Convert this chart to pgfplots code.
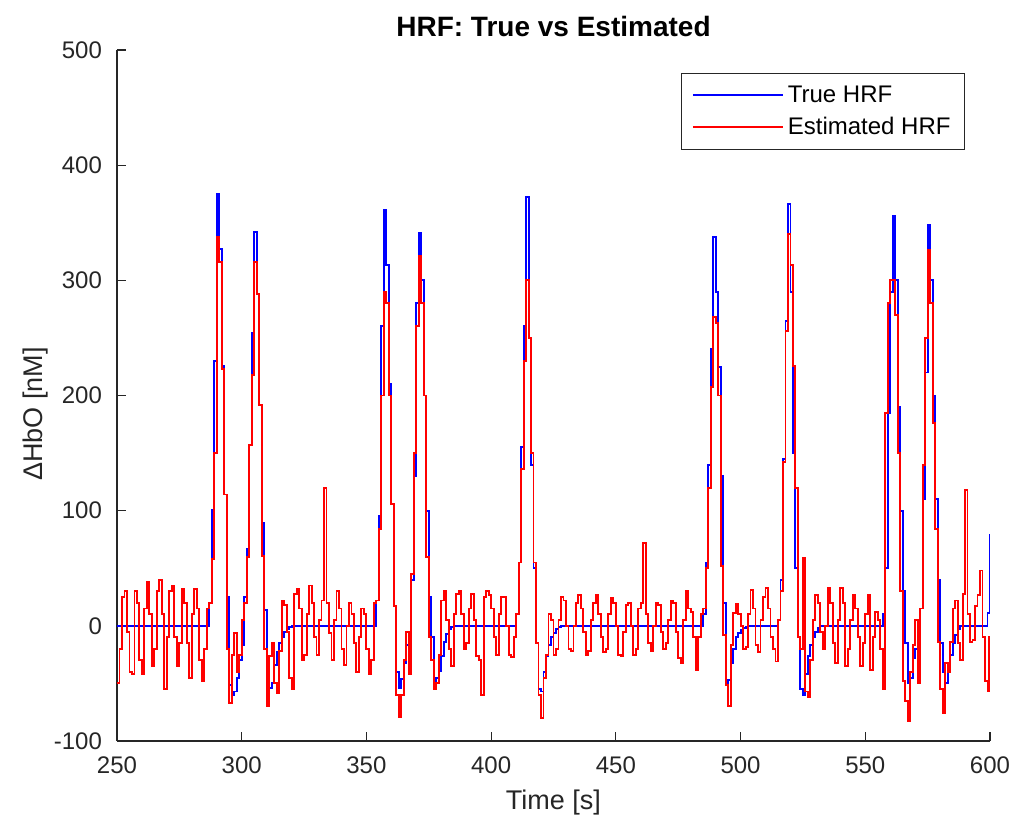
\documentclass[border=0pt]{standalone}
\usepackage{fontspec}
\setmainfont{Liberation Sans}
\usepackage{pgfplots}
\pgfplotsset{compat=1.18}
\definecolor{axgray}{rgb}{0.15,0.15,0.15}
\begin{document}
\begin{tikzpicture}
\useasboundingbox (-58.5pt,-41pt) rectangle (448.5pt,370.5pt);
\begin{axis}[
  name=ax,
  width=436.5pt, height=345.5pt, scale only axis,
  xmin=250, xmax=600, ymin=-100, ymax=500,
  axis lines=left,
  axis line style={-, draw=axgray, line width=0.6pt},
  xtick={250,300,...,600}, ytick={-100,0,...,500},
  tick align=inside, major tick length=4.4pt,
  tick style={draw=axgray, line width=0.6pt},
  ticklabel style={font=\fontsize{12}{14}\selectfont, text=axgray},
  /pgf/number format/assume math mode=true,
  /pgf/number format/1000 sep={},
  xticklabel style={yshift=-4.5pt},
  yticklabel style={xshift=-4pt},
  xlabel={Time [s]},
  xlabel style={font=\fontsize{13.5}{16}\selectfont, text=axgray, at={(axis description cs:0.5,-0.0897)}, anchor=center},
  ylabel={ΔHbO [nM]},
  ylabel style={font=\fontsize{13.5}{16}\selectfont, text=axgray, at={(axis description cs:-0.0939,0.473)}, anchor=center},
  legend style={at={(0.9714,0.9667)}, anchor=north east, draw=axgray, line width=0.5pt,
    font=\fontsize{12}{14}\selectfont, inner xsep=5pt, inner ysep=4pt, row sep=2pt},
  legend cell align=left,
  legend image code/.code={\draw[#1] (0pt,0pt) -- (45pt,0pt);},
]
\addplot[blue, const plot, line width=0.95pt] coordinates {
(250,0)(286,0)(287,20)(288,101)(289,230)(290,375)(291,327)(292,226)(293,114)(294,25)(295,-51)(296,-60)(297,-57)(298,-45)(299,-30)(300,-17)
(301,25)(302,67)(303,157)(304,254)(305,342)(306,288)(307,192)(308,89)(309,14)(310,-35)(311,-54)(312,-50)(313,-34)(314,-23)(315,-15)(316,-10)(317,-5)(318,-3)(319,-1)(320,0)
(353,0)(354,22)(355,95)(356,260)(357,361)(358,313)(359,210)(360,106)(361,17)(362,-40)(363,-54)(364,-46)(365,-32)(366,-17)(367,-8)
(368,40)(369,130)(370,280)(371,341)(372,300)(373,200)(374,100)(375,25)(376,-10)(377,-50)(378,-45)(379,-39)(380,-26)(381,-14)(382,-7)(383,-3)(384,-1)(385,0)
(410,10)(411,55)(412,155)(413,260)(414,372)(415,250)(416,140)(417,50)(418,-15)(419,-55)(420,-57)(421,-40)(422,-26)(423,-17)(424,-10)(425,-6)(426,-3)(427,-1)(428,0)
(485,10)(486,55)(487,140)(488,240)(489,338)(490,290)(491,225)(492,130)(493,20)(494,-50)(495,-47)(496,-32)(497,-20)(498,-10)(499,-6)(500,-4)(501,-2)(502,-1)(503,0)
(515,5)(516,40)(517,145)(518,265)(519,366)(520,290)(521,150)(522,50)(523,-10)(524,-55)(525,-60)(526,-42)(527,-26)(528,-17)(529,-10)(530,-5)(531,-2)(532,0)
(557,10)(558,50)(559,185)(560,290)(561,356)(562,300)(563,190)(564,100)(565,30)(566,-15)(567,-50)(568,-45)(569,-28)(570,-20)(571,-12)
(572,15)(573,110)(574,220)(575,348)(576,300)(577,200)(578,110)(579,40)(580,-15)(581,-40)(582,-50)(583,-40)(584,-25)(585,-15)(586,-8)(587,-3)(588,0)
(599,11)(599.8,78)(600,80)
};
\addlegendentry{True HRF}
\addplot[red, const plot, line width=0.95pt] coordinates {
(250,-50)(251,-20)(252,25)(253,30)(254,-5)(255,-40)(256,-42)(257,30)(258,20)(259,-30)(260,-42)(261,15)(262,38)(263,10)(264,-35)(265,-20)(266,30)(267,40)(268,10)(269,-55)
(270,-10)(271,30)(272,35)(273,-10)(274,-35)(275,-15)(276,32)(277,20)(278,-15)(279,-45)(280,10)(281,32)(282,15)(283,-30)(284,-48)(285,-20)(286,15)(287,20)(288,58)(289,150)
(290,338)(291,316)(292,223)(293,114)(294,-20)(295,-67)(296,-25)(297,-6)(298,-40)(299,-25)(300,5)(301,20)(302,60)(303,157)(304,218)(305,316)(306,288)(307,192)(308,61)(309,-20)
(310,-70)(311,-26)(312,-15)(313,-50)(314,-58)(315,-22)(316,22)(317,18)(318,-5)(319,-45)(320,-55)(321,28)(322,32)(323,15)(324,-30)(325,-25)(326,10)(327,35)(328,20)(329,-10)
(330,-25)(331,5)(332,22)(333,120)(334,20)(335,-6)(336,-30)(337,5)(338,30)(339,15)(340,-20)(341,-34)(342,0)(343,20)(344,10)(345,-15)(346,-40)(347,-10)(348,15)(349,10)
(350,-20)(351,-42)(352,-30)(353,20)(354,22)(355,84)(356,200)(357,290)(358,280)(359,200)(360,106)(361,17)(362,-60)(363,-79)(364,-60)(365,-30)(366,-5)(367,-42)(368,45)(369,150)
(370,260)(371,321)(372,280)(373,200)(374,60)(375,-10)(376,-30)(377,-55)(378,-50)(379,-25)(380,22)(381,30)(382,5)(383,-20)(384,-35)(385,10)(386,28)(387,30)(388,10)(389,-20)
(390,-15)(391,15)(392,28)(393,5)(394,-26)(395,-30)(396,-60)(397,25)(398,30)(399,27)(400,15)(401,-10)(402,-25)(403,10)(404,25)(405,25)(406,0)(407,-25)(408,-27)(409,-10)
(410,10)(411,55)(412,136)(413,230)(414,300)(415,250)(416,150)(417,55)(418,-15)(419,-60)(420,-80)(421,-45)(422,-25)(423,10)(424,5)(425,-25)(426,-20)(427,5)(428,25)(429,22)
(430,0)(431,-20)(432,-22)(433,0)(434,20)(435,27)(436,15)(437,-5)(438,-25)(439,-22)(440,5)(441,20)(442,27)(443,10)(444,-10)(445,-23)(446,-20)(447,10)(448,24)(449,20)
(450,0)(451,-25)(452,-26)(453,-5)(454,18)(455,20)(456,0)(457,-25)(458,-20)(459,15)(460,20)(461,72)(462,10)(463,-15)(464,-22)(465,0)(466,20)(467,18)(468,-5)(469,-20)
(470,-15)(471,5)(472,22)(473,20)(474,-5)(475,-28)(476,-32)(477,5)(478,30)(479,15)(480,12)(481,-10)(482,-38)(483,-10)(484,10)(485,15)(486,50)(487,120)(488,207)(489,268)
(490,263)(491,200)(492,52)(493,-8)(494,-51)(495,-70)(496,-17)(497,11)(498,19)(499,10)(500,0)(501,-20)(502,-18)(503,10)(504,31)(505,15)(506,-17)(507,-23)(508,5)(509,25)
(510,33)(511,15)(512,-10)(513,-20)(514,-31)(515,5)(516,30)(517,142)(518,256)(519,340)(520,313)(521,226)(522,120)(523,-10)(524,-20)(525,59)(526,-57)(527,-62)(528,-30)(529,5)
(530,27)(531,20)(532,-5)(533,-20)(534,0)(535,33)(536,20)(537,-15)(538,-32)(539,5)(540,33)(541,20)(542,-35)(543,-20)(544,5)(545,27)(546,15)(547,-10)(548,-35)(549,-15)
(550,10)(551,27)(552,-38)(553,-10)(554,12)(555,5)(556,-20)(557,-55)(558,185)(559,280)(560,300)(561,300)(562,270)(563,150)(564,30)(565,-48)(566,-65)(567,-83)(568,-40)(569,-17)
(570,5)(571,-50)(572,15)(573,140)(574,250)(575,326)(576,280)(577,176)(578,84)(579,-14)(580,-55)(581,-76)(582,-32)(583,-40)(584,-14)(585,15)(586,22)(587,-15)(588,-30)(589,28)
(590,118)(591,10)(592,-14)(593,-12)(594,17)(595,27)(596,48)(597,-10)(598,-48)(599,-57)(599.5,-10)(600,-10)
};
\addlegendentry{Estimated HRF}
\end{axis}
\node[anchor=base, inner sep=0pt, font=\fontsize{14}{16}\selectfont\bfseries] at (218.25pt,352pt) {HRF: True vs Estimated};
\end{tikzpicture}
\end{document}
